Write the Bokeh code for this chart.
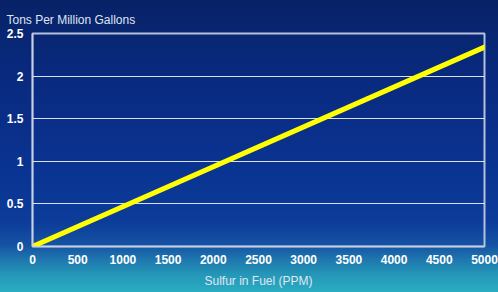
from bokeh.plotting import figure
from bokeh.models import Range1d, FixedTicker, NumeralTickFormatter, GlobalInlineStyleSheet
from bokeh.embed import file_html
from bokeh.resources import INLINE

# Data
sulfur_ppm = [0, 5000]
tons_per_million_gal = [0, 2.34]
x_ticks = [0, 500, 1000, 1500, 2000, 2500, 3000, 3500, 4000, 4500, 5000]
y_ticks = [0, 0.5, 1, 1.5, 2, 2.5]
y_title = "Tons Per Million Gallons"
x_title = "Sulfur in Fuel (PPM)"

page_css = """
html { height: 100%; overflow: hidden;
  background: linear-gradient(180deg, #082266 0px, #08287a 60px, #0a2e88 120px,
     #0a3593 180px, #0c3c9a 222px, #1652a4 245px, #1e78ae 260px, #2598b8 275px, #2aacc2 292px) no-repeat;
  background-color: #2aacc2; }
body { margin: 0; overflow: hidden; background: transparent; }
"""

p = figure(width=498, height=292, output_backend="svg", toolbar_location=None,
           x_range=Range1d(0, 5000), y_range=Range1d(0, 2.5),
           min_border_left=32, min_border_right=14, min_border_top=33, min_border_bottom=46,
           border_fill_color=None, background_fill_color=None,
           stylesheets=[GlobalInlineStyleSheet(css=page_css)])

p.title.text = y_title
p.title.align = "left"
p.title.vertical_align = "top"
p.title.offset = -26
p.title.standoff = 10
p.title.text_font = "Liberation Sans"
p.title.text_font_size = "12px"
p.title.text_font_style = "normal"
p.title.text_color = "#dfe5f2"

p.outline_line_color = "#b4c0dc"
p.outline_line_width = 2

for ax in (p.xaxis[0], p.yaxis[0]):
    ax.axis_line_color = "#c8d0e2"
    ax.axis_line_width = 1.5
    ax.major_tick_line_color = None
    ax.minor_tick_line_color = None
    ax.major_label_text_color = "white"
    ax.major_label_text_font = "Liberation Sans"
    ax.major_label_text_font_style = "bold"
    ax.major_label_text_font_size = "12px"

p.xaxis.major_label_standoff = 2
p.yaxis.major_label_standoff = 3

p.xaxis.ticker = FixedTicker(ticks=x_ticks)
p.yaxis.ticker = FixedTicker(ticks=y_ticks)
p.yaxis.formatter = NumeralTickFormatter(format="0.[0]")

p.xaxis.axis_label = x_title
p.xaxis.axis_label_text_font = "Liberation Sans"
p.xaxis.axis_label_text_font_style = "normal"
p.xaxis.axis_label_text_font_size = "12px"
p.xaxis.axis_label_text_color = "#e0e6f2"
p.xaxis.axis_label_standoff = 7

p.xgrid.visible = False
p.ygrid.grid_line_color = "white"
p.ygrid.grid_line_alpha = 0.85
p.ygrid.grid_line_width = 1

p.line(sulfur_ppm, tons_per_million_gal, line_color="#ffff00", line_width=5, line_cap="round")

open("out.html", "w").write(file_html(p, INLINE))
